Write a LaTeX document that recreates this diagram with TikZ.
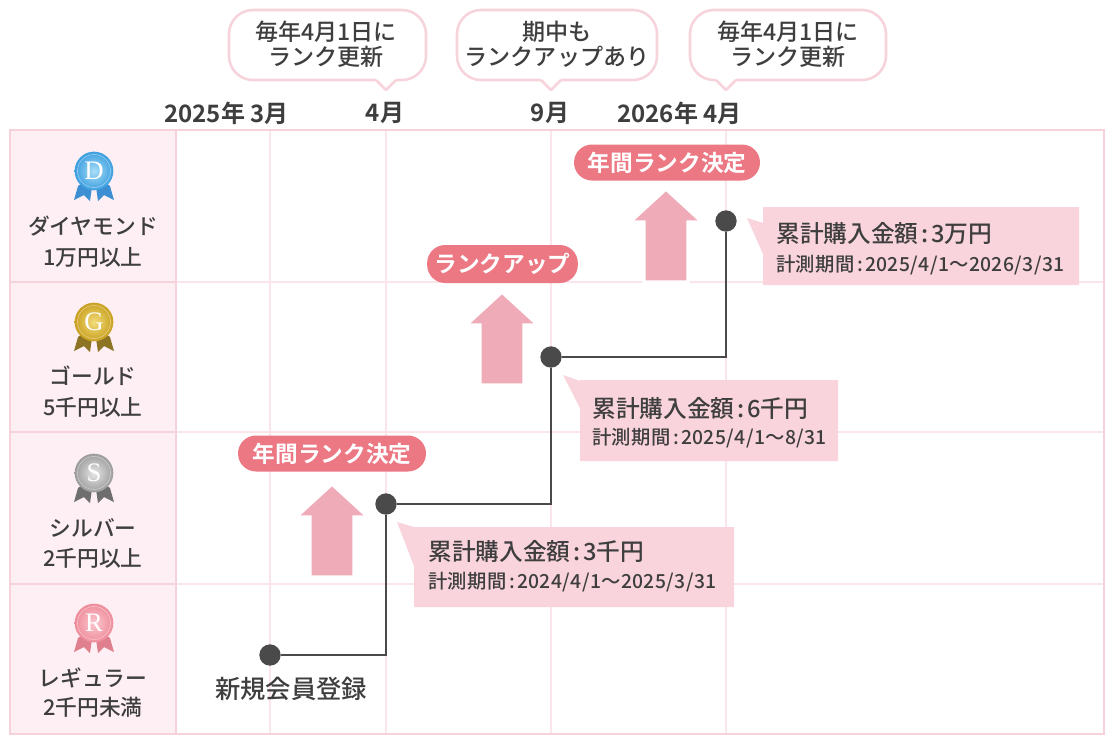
\documentclass[tikz,border=0pt]{standalone}
\usepackage{fontspec}
\IfFontExistsTF{Noto Sans CJK JP Medium}
  {\setmainfont{Noto Sans CJK JP Medium}[BoldFont={Noto Sans CJK JP Bold}]}
  {\setmainfont{Noto Sans CJK JP}}
\newfontfamily\medalserif{Liberation Serif}
\definecolor{txt}{HTML}{3E3E3E}
\definecolor{gridc}{HTML}{FBE4EA}
\definecolor{borderc}{HTML}{F6D2DB}
\definecolor{headfill}{HTML}{FDEFF3}
\definecolor{badgec}{HTML}{EC7884}
\definecolor{arrowc}{HTML}{F0ABB9}
\definecolor{infoc}{HTML}{F9D4DD}
\definecolor{tlc}{HTML}{4A4A4A}
\definecolor{callc}{HTML}{F7D3DC}
\definecolor{dIn}{HTML}{A8DDF7}\definecolor{dOut}{HTML}{3C9FE0}\definecolor{dRib}{HTML}{3D8FD3}
\definecolor{gIn}{HTML}{F3DC7A}\definecolor{gOut}{HTML}{C9A020}\definecolor{gRib}{HTML}{8C7424}
\definecolor{sIn}{HTML}{E6E6E6}\definecolor{sOut}{HTML}{9C9C9C}\definecolor{sRib}{HTML}{6E6E6E}
\definecolor{rIn}{HTML}{FBC6CE}\definecolor{rOut}{HTML}{EE8D9B}\definecolor{rRib}{HTML}{E0808F}
\newcommand\cln{\hspace{0.12em}:\hspace{0.12em}}
\tikzset{
  monthlbl/.style={font=\bfseries\fontsize{18pt}{20pt}\selectfont, text=txt},
  calltxt/.style={font=\fontsize{17.3pt}{18.75pt}\selectfont, align=center, text=txt},
  rowlbl/.style={font=\fontsize{16.3pt}{18pt}\selectfont, text=txt},
  badgebox/.style={fill=badgec, rounded corners=13.5pt, text=white,
    font=\bfseries\fontsize{17pt}{18pt}\selectfont, minimum height=27pt, inner sep=0pt},
  infoA/.style={font=\fontsize{17.8pt}{20pt}\selectfont, anchor=west, text=txt},
  infoB/.style={font=\fontsize{14.5pt}{16pt}\selectfont\addfontfeature{LetterSpace=2}, anchor=west, text=txt},
  dotnode/.style={circle, fill=tlc, minimum size=16pt, inner sep=0pt},
  tlline/.style={draw=tlc, line width=2pt},
  uparrowc/.style={fill=arrowc, draw=white, line width=2.5pt, line join=miter},
  callbord/.style={draw=callc, line width=1.9pt},
  medalletter/.style={font=\medalserif\fontsize{20pt}{20pt}\selectfont, text=white},
  regtxt/.style={font=\fontsize{19pt}{20pt}\selectfont, text=txt},
}
\newcommand\MedalIcon[6]{%
  \fill[#5] ({#1-12},{#2+12}) -- ({#1-2},{#2+16}) -- ({#1-4},{#2+30}) -- ({#1-10},{#2+24}) -- ({#1-20},{#2+29}) -- ({#1-16},{#2+15}) -- cycle;
  \fill[#5] ({#1+12},{#2+12}) -- ({#1+2},{#2+16}) -- ({#1+4},{#2+30}) -- ({#1+10},{#2+24}) -- ({#1+20},{#2+29}) -- ({#1+16},{#2+15}) -- cycle;
  \shade[inner color=#3, outer color=#4] (#1,#2) circle (14.5pt);
  \draw[white, opacity=.45, line width=.4pt] (#1,#2) circle (12.4pt);
  \node[medalletter] at (#1,#2) {#6};
}
\newcommand\CallOut[3]{%
  \draw[callbord, fill=white, rounded corners=18pt] (#1,10) rectangle (#2,80);
  \fill[white] ({#3-10.5},77.5) -- ({#3-10},80) -- (#3,90) -- ({#3+10},80) -- ({#3+10.5},77.5) -- cycle;
  \draw[callbord, line join=round] ({#3-10},80) -- (#3,90) -- ({#3+10},80);
}
\newcommand\UpArrowShape[2]{%
  \filldraw[uparrowc] ({#1-22},{#2+93}) -- ({#1-22},{#2+33}) -- ({#1-36},{#2+33}) -- (#1,#2)
    -- ({#1+36},{#2+33}) -- ({#1+22},{#2+33}) -- ({#1+22},{#2+93}) -- cycle;
}
\begin{document}
\begin{tikzpicture}[x=0.75pt,y=-0.75pt, every node/.style={inner sep=0pt}]
\useasboundingbox (0,0) rectangle (1114,751);
\fill[white] (0,0) rectangle (1114,751);
% table
\fill[headfill] (10,130) rectangle (176,734);
\foreach \gx in {270,386,551,726} \draw[gridc, line width=1.5pt] (\gx,130) -- (\gx,734);
\foreach \gy in {282,432,584} {
  \draw[gridc, line width=1.5pt] (176,\gy) -- (1104,\gy);
  \draw[borderc, line width=1.6pt] (10,\gy) -- (176,\gy);
}
\draw[borderc, line width=2.2pt] (176,130) -- (176,734);
\draw[borderc, line width=2.2pt] (10,130) rectangle (1104,734);
% callouts
\CallOut{229}{426}{386}
\CallOut{457}{657}{551}
\CallOut{690}{886}{726}
\node[calltxt] (c1) at (326,44.5) {毎年4月1日に\\ランク更新};
\node[calltxt] (c2) at (557,44.5) {期中も\\ランクアップあり};
\node[calltxt] (c3) at (788,44.5) {毎年4月1日に\\ランク更新};
% month labels
\node[monthlbl, anchor=east] (m1) at (289,113) {2025年 3月};
\node[monthlbl] (m2) at (385,113) {4月};
\node[monthlbl] (m3) at (550,113) {9月};
\node[monthlbl, anchor=east] (m4) at (742,113) {2026年 4月};
% row headers
\MedalIcon{94}{171}{dIn}{dOut}{dRib}{D}
\MedalIcon{94}{322}{gIn}{gOut}{gRib}{G}
\MedalIcon{94}{473}{sIn}{sOut}{sRib}{S}
\MedalIcon{94}{623}{rIn}{rOut}{rRib}{R}
\node[rowlbl] (r1a) at (93,226) {ダイヤモンド};
\node[rowlbl] (r1b) at (93,257) {1万円以上};
\node[rowlbl] (r2a) at (93,376) {ゴールド};
\node[rowlbl] (r2b) at (93,407) {5千円以上};
\node[rowlbl] (r3a) at (93,528) {シルバー};
\node[rowlbl] (r3b) at (93,558) {2千円以上};
\node[rowlbl] (r4a) at (93,678) {レギュラー};
\node[rowlbl] (r4b) at (93,707) {2千円未満};
% arrows
\UpArrowShape{332}{484}
\UpArrowShape{502}{292}
\UpArrowShape{666}{189}
% badges
\node[badgebox, minimum width=139.5pt] (b3) at (667,162.5) {年間ランク決定};
\node[badgebox, minimum width=113pt, minimum height=28.5pt] (b2) at (502.5,264) {ランクアップ};
\node[badgebox, minimum width=141pt] (b1) at (332,453.5) {年間ランク決定};
% info boxes
\fill[infoc] (414,527) -- (734,527) -- (734,607) -- (414,607) -- (414,566) -- (397,522) -- cycle;
\fill[infoc] (580,380) -- (838,380) -- (838,461) -- (580,461) -- (580,408) -- (563,375) -- (580,381) -- cycle;
\fill[infoc] (763,207) -- (1079,207) -- (1079,285) -- (763,285) -- (763,254) -- (747,218) -- (763,223) -- cycle;
\node[infoA] (ia1) at (428,551) {累計購入金額\cln 3千円};
\node[infoB] (ib1) at (428,582) {計測期間\cln 2024/4/1〜2025/3/31};
\node[infoA] (ia2) at (592,408) {累計購入金額\cln 6千円};
\node[infoB] (ib2) at (592,438) {計測期間\cln 2025/4/1〜8/31};
\node[infoA] (ia3) at (776,233) {累計購入金額\cln 3万円};
\node[infoB] (ib3) at (776,265) {計測期間\cln 2025/4/1〜2026/3/31};
% timeline
\node[dotnode] (d0) at (270,655) {};
\node[dotnode] (d1) at (386,504) {};
\node[dotnode] (d2) at (551,357) {};
\node[dotnode] (d3) at (726,221) {};
\draw[tlline] (d0) -| (d1);
\draw[tlline] (d1) -| (d2);
\draw[tlline] (d2) -| (d3);
\node[regtxt] (reg) at (291,689) {新規会員登録};
\end{tikzpicture}
\end{document}
